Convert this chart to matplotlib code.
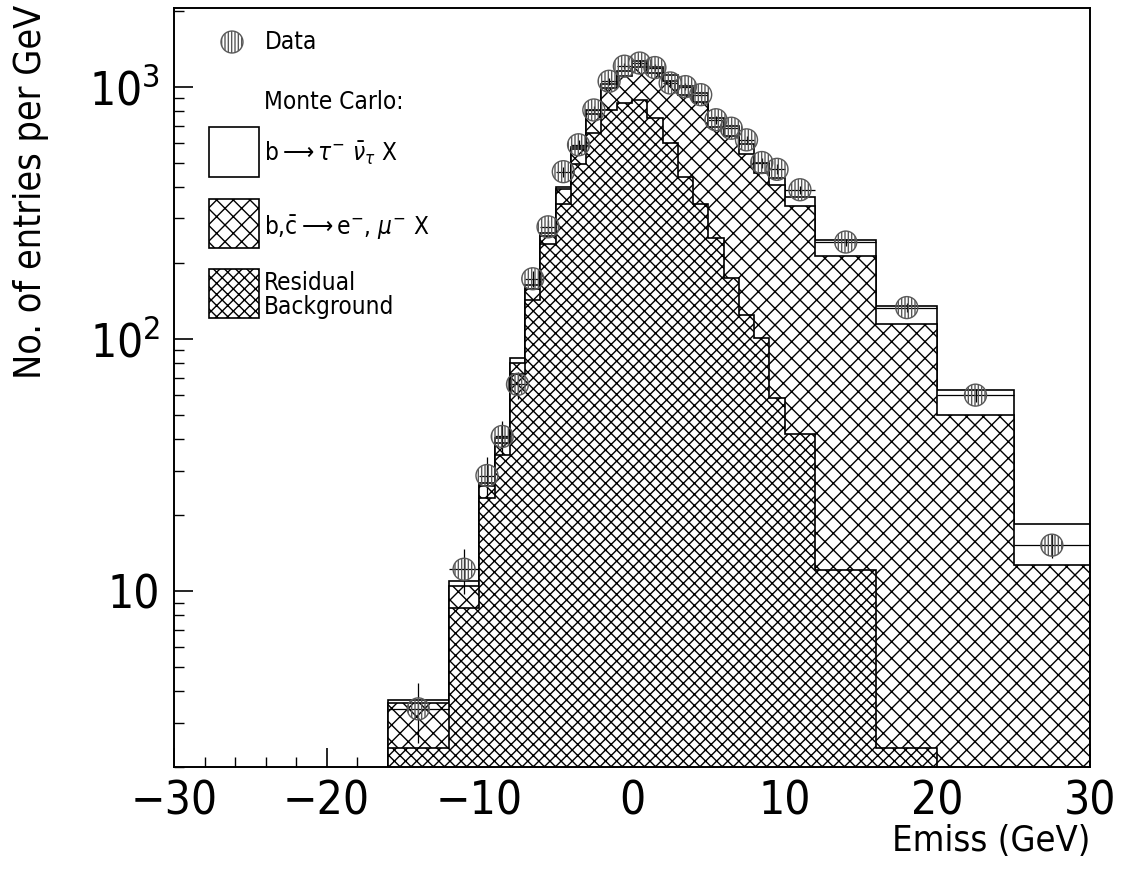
import numpy as np
import matplotlib
matplotlib.use('Agg')
import matplotlib.pyplot as plt
from matplotlib.patches import Rectangle
from matplotlib.ticker import FixedLocator, FixedFormatter, LogLocator, NullFormatter, MultipleLocator

plt.rcParams['font.family'] = ['DejaVu Sans']
plt.rcParams['font.stretch'] = 'condensed'
plt.rcParams['mathtext.fontset'] = 'dejavusans'
plt.rcParams['hatch.linewidth'] = 1.0
plt.rcParams['hatch.color'] = 'black'

# bin edges (GeV) and stacked histogram tops (entries per GeV)
edges = [-16, -12, -10, -9, -8, -7, -6, -5, -4, -3, -2, -1, 0, 1, 2, 3, 4, 5,
         6, 7, 8, 9, 10, 12, 16, 20, 25, 30]
# total MC = residual + b,c->e,mu + b->tau
tau_top = [3.69, 11.0, 26.8, 40.4, 84, 163, 262, 400, 578, 805, 1028, 1151, 1262,
           1198, 1116, 1003, 944, 750, 700, 590, 500, 433, 366, 247, 134.5, 62.8, 18.5]
# residual + b,c->e,mu
emu_top = [3.6, 10.5, 26.0, 38.5, 80, 158, 255, 392, 566, 780, 990, 1100, 1200,
           1130, 1050, 930, 870, 690, 640, 540, 455, 407, 336, 213, 114, 49.7, 12.65]
# residual background
bkg_top = [2.39, 8.6, 23.3, 34.5, 72.8, 142, 238, 342, 493, 654, 810, 861, 887,
           750, 597, 440, 344, 252, 175, 124.6, 100.6, 58, 42, 12.1, 2.39, 0, 0]

data_y = [3.41, 12.2, 28.7, 41, 66, 173, 278, 460, 588, 808, 1050, 1205, 1240,
          1190, 1034, 1000, 929, 739, 684, 615, 500, 470, 390, 242, 133, 59.8, 15.2]
data_err = [0.92, 2.47, 5.4, 6.4, 8.1, 13.2, 16.7, 21.4, 24.2, 28.4, 32.4, 34.7, 35.2,
            34.5, 32.2, 31.6, 30.5, 27.2, 26.2, 24.8, 22.4, 21.7, 13.9, 7.8, 5.8, 3.5, 1.7]

edges_a = np.array(edges, dtype=float)
centres = 0.5 * (edges_a[1:] + edges_a[:-1])
half_w = 0.5 * np.diff(edges_a)

fig = plt.figure(figsize=(11.22, 8.69), dpi=100)
ax = fig.add_axes([174 / 1122, 1 - 767.3 / 869, 916 / 1122, 759.3 / 869])
ax.set_yscale('log')

hatch_emu = 'xx'
hatch_bkg = 'xxx'
base = 1.0
ax.stairs(tau_top, edges, baseline=base, fill=True, facecolor='white',
          edgecolor='black', lw=1.2, zorder=2)
ax.stairs(emu_top, edges, baseline=base, fill=True, facecolor='white',
          edgecolor='black', hatch=hatch_emu, lw=1.2, zorder=2)
bkg = np.array(bkg_top, dtype=float)
last = np.nonzero(bkg > 0)[0][-1] + 1
ax.stairs(bkg[:last], edges_a[:last + 1], baseline=base, fill=True, facecolor='white',
          edgecolor='black', hatch=hatch_bkg, lw=1.2, zorder=2)

ax.errorbar(centres, data_y, yerr=data_err, xerr=half_w, fmt='none', ecolor='black',
            elinewidth=0.9, capsize=0, zorder=4)
ax.scatter(centres, data_y, s=250, marker='o', facecolors='none', edgecolors='0.35',
           hatch='|||||', linewidths=1.0, zorder=5)

ax.set_xlim(-30, 30)
ax.set_ylim(2, 2050)

ax.xaxis.set_major_locator(MultipleLocator(10))
ax.xaxis.set_minor_locator(MultipleLocator(2))
ax.yaxis.set_major_locator(FixedLocator([10, 100, 1000]))
ax.yaxis.set_major_formatter(FixedFormatter(['10', r'$\mathregular{10^{2}}$',
                                             r'$\mathregular{10^{3}}$']))
ax.yaxis.set_minor_locator(LogLocator(subs=range(2, 10)))
ax.yaxis.set_minor_formatter(NullFormatter())
ax.tick_params(which='both', direction='in', top=False, right=False)
ax.tick_params(which='major', length=14, width=1.2, labelsize=33)
ax.tick_params(axis='x', which='major', pad=9)
ax.tick_params(axis='y', which='major', pad=10)
ax.tick_params(which='minor', length=7, width=1.0)
for sp in ax.spines.values():
    sp.set_linewidth(1.4)

fig.text(0.028, 1 - 5 / 869, 'No. of entries per GeV', rotation=90,
         ha='center', va='top', fontsize=27)
fig.text(1090 / 1122, 1 - 841 / 869, 'Emiss (GeV)', ha='right', va='center', fontsize=26)

# legend drawn by hand in axes coordinates
tr = ax.transAxes
ax.scatter([0.0633], [0.9552], s=250, marker='o', facecolors='none', edgecolors='0.35',
           hatch='|||||', linewidths=1.0, transform=tr, zorder=6, clip_on=False)
txt = dict(transform=tr, fontsize=17.5, va='center', ha='left')
ax.text(0.0993, 0.9552, 'Data', **txt)
ax.text(0.0983, 0.8765, 'Monte Carlo:', **txt)
boxes = [(0.7778, None), (0.6835, hatch_emu), (0.5913, hatch_bkg)]
for y0, h in boxes:
    ax.add_patch(Rectangle((0.0385, y0), 0.0539, 0.065, transform=tr, facecolor='white',
                           edgecolor='black', hatch=h, lw=1.2, zorder=6))
ax.text(0.0983, 0.8089, r'b$\longrightarrow\tau^{-}\ \bar{\nu}_{\tau}$ X', **txt)
ax.text(0.0983, 0.7120, r'b,$\bar{\mathregular{c}}\longrightarrow$e$^{-}$, $\mu^{-}$ X', **txt)
ax.text(0.0983, 0.6220, 'Residual\nBackground', linespacing=0.95, **txt)

fig.savefig('out.png', dpi=100)
